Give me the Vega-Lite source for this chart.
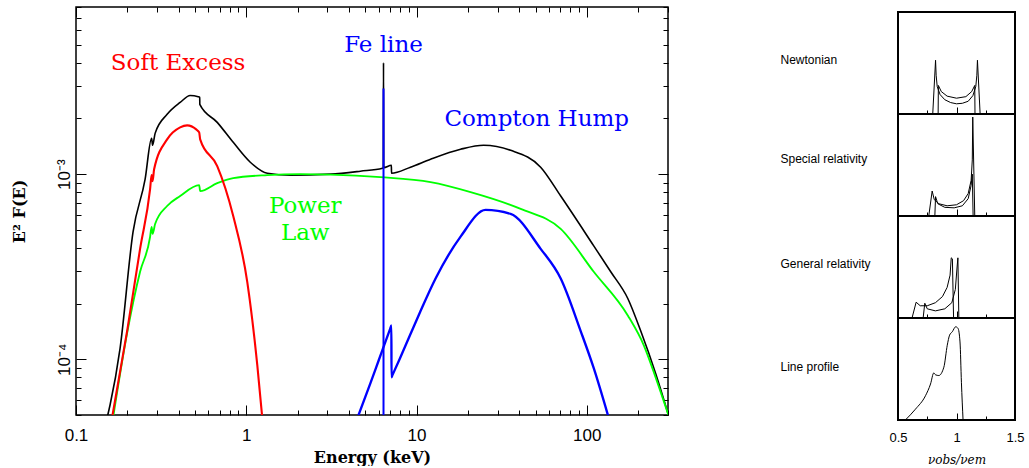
{
"$schema": "https://vega.github.io/schema/vega-lite/v6.json",
"background": "white",
"padding": {"left": 10, "top": 3, "right": 5, "bottom": 0},
"config": {"view": {"stroke": "black"}, "axis": {"grid": false, "domain": false, "labelOverlap": false, "labelFlush": false, "tickColor": "black", "labelColor": "black", "titleColor": "black", "tickWidth": 1}},
"datasets": {
"curves": [
{"s":"total","e":0.1522,"f":4.82e-5},{"s":"total","e":0.1585,"f":5.66e-5},{"s":"total","e":0.1815,"f":1.146e-4},{"s":"total","e":0.2163,"f":4.88e-4},{"s":"total","e":0.2547,"f":9.4e-4},{"s":"total","e":0.278,"f":1.561e-3},{"s":"total","e":0.2818,"f":1.432e-3},{"s":"total","e":0.2915,"f":1.661e-3},{"s":"total","e":0.3429,"f":2.104e-3},{"s":"total","e":0.409,"f":2.44e-3},{"s":"total","e":0.4685,"f":2.66e-3},{"s":"total","e":0.5221,"f":2.62e-3},{"s":"total","e":0.533,"f":2.6e-3},{"s":"total","e":0.5335,"f":2.38e-3},{"s":"total","e":0.6753,"f":1.905e-3},{"s":"total","e":0.8385,"f":1.486e-3},{"s":"total","e":1.056,"f":1.16e-3},{"s":"total","e":1.329,"f":1.012e-3},{"s":"total","e":1.815,"f":9.88e-4},{"s":"total","e":3.12,"f":1.0e-3},{"s":"total","e":4.684,"f":1.038e-3},{"s":"total","e":6.31,"f":1.077e-3},{"s":"total","e":6.38,"f":1.08e-3},{"s":"total","e":6.4,"f":4.0e-3},{"s":"total","e":6.42,"f":1.085e-3},{"s":"total","e":7.12,"f":1.118e-3},{"s":"total","e":7.13,"f":1.012e-3},{"s":"total","e":9.22,"f":1.091e-3},{"s":"total","e":12.09,"f":1.204e-3},{"s":"total","e":18.15,"f":1.363e-3},{"s":"total","e":24.77,"f":1.432e-3},{"s":"total","e":35.7,"f":1.346e-3},{"s":"total","e":53.6,"f":1.091e-3},{"s":"total","e":70.3,"f":7.62e-4},{"s":"total","e":109.9,"f":4.1e-4},{"s":"total","e":138.3,"f":2.97e-4},{"s":"total","e":174.2,"f":2.13e-4},{"s":"total","e":207.8,"f":1.416e-4},{"s":"total","e":254.7,"f":8.3e-5},{"s":"total","e":303,"f":4.94e-5},
{"s":"power","e":0.165,"f":4.82e-5},{"s":"power","e":0.1995,"f":1.38e-4},{"s":"power","e":0.2379,"f":2.97e-4},{"s":"power","e":0.2724,"f":4.58e-4},{"s":"power","e":0.278,"f":5.19e-4},{"s":"power","e":0.2818,"f":4.76e-4},{"s":"power","e":0.2915,"f":5.38e-4},{"s":"power","e":0.3429,"f":6.73e-4},{"s":"power","e":0.409,"f":7.62e-4},{"s":"power","e":0.5291,"f":8.73e-4},{"s":"power","e":0.5362,"f":8.1e-4},{"s":"power","e":0.6753,"f":8.95e-4},{"s":"power","e":0.8385,"f":9.52e-4},{"s":"power","e":1.329,"f":9.88e-4},{"s":"power","e":2.078,"f":1.0e-3},{"s":"power","e":3.12,"f":9.94e-4},{"s":"power","e":6.14,"f":9.63e-4},{"s":"power","e":12.09,"f":9.06e-4},{"s":"power","e":20.78,"f":8.0e-4},{"s":"power","e":40.9,"f":6.49e-4},{"s":"power","e":70.3,"f":5.06e-4},{"s":"power","e":109.9,"f":2.97e-4},{"s":"power","e":174.2,"f":1.725e-4},{"s":"power","e":216.3,"f":1.19e-4},{"s":"power","e":254.7,"f":7.91e-5},{"s":"power","e":303,"f":4.94e-5},
{"s":"soft","e":0.1628,"f":4.82e-5},{"s":"soft","e":0.1995,"f":1.416e-4},{"s":"soft","e":0.2379,"f":3.95e-4},{"s":"soft","e":0.2724,"f":8.3e-4},{"s":"soft","e":0.278,"f":9.88e-4},{"s":"soft","e":0.2818,"f":9.17e-4},{"s":"soft","e":0.2876,"f":1.064e-3},{"s":"soft","e":0.3429,"f":1.542e-3},{"s":"soft","e":0.409,"f":1.79e-3},{"s":"soft","e":0.4497,"f":1.834e-3},{"s":"soft","e":0.5081,"f":1.745e-3},{"s":"soft","e":0.5291,"f":1.682e-3},{"s":"soft","e":0.5362,"f":1.542e-3},{"s":"soft","e":0.6753,"f":1.104e-3},{"s":"soft","e":0.8385,"f":5.94e-4},{"s":"soft","e":1.0136,"f":2.62e-4},{"s":"soft","e":1.161,"f":9.29e-5},{"s":"soft","e":1.242,"f":4.82e-5},
{"s":"compton","e":4.498,"f":4.82e-5},{"s":"compton","e":5.363,"f":7.43e-5},{"s":"compton","e":6.0,"f":9.88e-5},{"s":"compton","e":6.5,"f":1.21e-4},{"s":"compton","e":7.0,"f":1.46e-4},{"s":"compton","e":7.12,"f":1.524e-4},{"s":"compton","e":7.13,"f":8.0e-5},{"s":"compton","e":7.2,"f":8.16e-5},{"s":"compton","e":8.0,"f":1.014e-4},{"s":"compton","e":9.22,"f":1.37e-4},{"s":"compton","e":10.5,"f":1.8e-4},{"s":"compton","e":12.94,"f":2.73e-4},{"s":"compton","e":18.15,"f":4.6e-4},{"s":"compton","e":25.47,"f":6.41e-4},{"s":"compton","e":35.7,"f":6.1e-4},{"s":"compton","e":53.6,"f":3.95e-4},{"s":"compton","e":70.3,"f":2.73e-4},{"s":"compton","e":92.2,"f":1.416e-4},{"s":"compton","e":109.9,"f":8.95e-5},{"s":"compton","e":134.6,"f":4.82e-5}
],
"fe": [{"s":"fe","e":6.4,"f":4.5e-5},{"s":"fe","e":6.4,"f":2.9e-3}],
"labels": [
{"t":"Soft Excess","e":0.398,"f":4.0e-3,"s":"soft"},
{"t":"Fe line","e":6.4,"f":5.0e-3,"s":"fe"},
{"t":"Compton Hump","e":50.8,"f":1.98e-3,"s":"compton"},
{"t":"Power","e":2.22,"f":6.73e-4,"s":"power"},
{"t":"Law","e":2.22,"f":4.82e-4,"s":"power"}
],
"nw": [
{"k":"a","v":0.75,"p":0},{"k":"a","v":0.797,"p":0},{"k":"a","v":0.821,"p":0.527},{"k":"a","v":0.826,"p":0.38},{"k":"a","v":0.835,"p":0.27},{"k":"a","v":0.86,"p":0.19},{"k":"a","v":0.9,"p":0.14},{"k":"a","v":0.95,"p":0.112},{"k":"a","v":1.0,"p":0.1},{"k":"a","v":1.05,"p":0.105},{"k":"a","v":1.1,"p":0.125},{"k":"a","v":1.14,"p":0.18},{"k":"a","v":1.165,"p":0.27},{"k":"a","v":1.174,"p":0.38},{"k":"a","v":1.179,"p":0.527},{"k":"a","v":1.202,"p":0},{"k":"a","v":1.25,"p":0},
{"k":"b","v":0.8,"p":0},{"k":"b","v":0.843,"p":0},{"k":"b","v":0.845,"p":0.28},{"k":"b","v":0.87,"p":0.22},{"k":"b","v":0.92,"p":0.175},{"k":"b","v":1.0,"p":0.155},{"k":"b","v":1.08,"p":0.17},{"k":"b","v":1.13,"p":0.22},{"k":"b","v":1.156,"p":0.28},{"k":"b","v":1.158,"p":0},{"k":"b","v":1.2,"p":0}
],
"sr": [
{"k":"a","v":0.72,"p":0},{"k":"a","v":0.763,"p":0},{"k":"a","v":0.792,"p":0.245},{"k":"a","v":0.81,"p":0.16},{"k":"a","v":0.85,"p":0.12},{"k":"a","v":0.92,"p":0.1},{"k":"a","v":1.0,"p":0.11},{"k":"a","v":1.06,"p":0.15},{"k":"a","v":1.1,"p":0.22},{"k":"a","v":1.125,"p":0.35},{"k":"a","v":1.135,"p":0.55},{"k":"a","v":1.139,"p":0.97},{"k":"a","v":1.156,"p":0},{"k":"a","v":1.2,"p":0},
{"k":"b","v":0.78,"p":0},{"k":"b","v":0.815,"p":0},{"k":"b","v":0.821,"p":0.19},{"k":"b","v":0.84,"p":0.12},{"k":"b","v":0.9,"p":0.085},{"k":"b","v":0.98,"p":0.08},{"k":"b","v":1.05,"p":0.1},{"k":"b","v":1.1,"p":0.17},{"k":"b","v":1.125,"p":0.3},{"k":"b","v":1.135,"p":0.41},{"k":"b","v":1.142,"p":0},{"k":"b","v":1.2,"p":0}
],
"gr": [
{"k":"a","v":0.58,"p":0},{"k":"a","v":0.62,"p":0},{"k":"a","v":0.655,"p":0.155},{"k":"a","v":0.69,"p":0.12},{"k":"a","v":0.75,"p":0.12},{"k":"a","v":0.82,"p":0.15},{"k":"a","v":0.88,"p":0.21},{"k":"a","v":0.92,"p":0.3},{"k":"a","v":0.945,"p":0.42},{"k":"a","v":0.955,"p":0.59},{"k":"a","v":0.965,"p":0.58},{"k":"a","v":0.975,"p":0},{"k":"a","v":1.0,"p":0},
{"k":"b","v":0.68,"p":0},{"k":"b","v":0.715,"p":0},{"k":"b","v":0.729,"p":0.145},{"k":"b","v":0.75,"p":0.09},{"k":"b","v":0.82,"p":0.07},{"k":"b","v":0.9,"p":0.09},{"k":"b","v":0.96,"p":0.15},{"k":"b","v":0.99,"p":0.28},{"k":"b","v":1.005,"p":0.5},{"k":"b","v":1.012,"p":0.59},{"k":"b","v":1.02,"p":0},{"k":"b","v":1.05,"p":0}
],
"lp": [
{"k":"a","v":0.563,"p":0},{"k":"a","v":0.649,"p":0.106},{"k":"a","v":0.735,"p":0.238},{"k":"a","v":0.778,"p":0.353},{"k":"a","v":0.806,"p":0.462},{"k":"a","v":0.821,"p":0.443},{"k":"a","v":0.849,"p":0.436},{"k":"a","v":0.892,"p":0.518},{"k":"a","v":0.921,"p":0.733},{"k":"a","v":0.941,"p":0.832},{"k":"a","v":0.964,"p":0.865},{"k":"a","v":0.993,"p":0.914},{"k":"a","v":1.013,"p":0.898},{"k":"a","v":1.03,"p":0.765},{"k":"a","v":1.042,"p":0.37},{"k":"a","v":1.056,"p":0}
]
},
"spacing": 109,
"hconcat": [
{
"width": 592, "height": 408,
"view": {"stroke": "black", "strokeWidth": 1.5},
"resolve": {"axis": {"x": "independent", "y": "independent"}},
"layer": [
{
"data": {"name": "curves"},
"mark": {"type": "line", "clip": true, "interpolate": "monotone"},
"encoding": {
"x": {"field": "e", "type": "quantitative", "scale": {"type": "log", "domain": [0.1, 300], "nice": false},
"axis": {"orient": "bottom", "values": [0.1,0.2,0.3,0.4,0.5,0.6,0.7,0.8,0.9,1,2,3,4,5,6,7,8,9,10,20,30,40,50,60,70,80,90,100,200,300],
"tickSize": {"condition": {"test": "datum.value==0.1||datum.value==1||datum.value==10||datum.value==100", "value": -10}, "value": -5},
"labelExpr": "datum.value==0.1?'0.1':datum.value==1?'1':datum.value==10?'10':datum.value==100?'100':''",
"labelPadding": 22, "labelFont": "Liberation Sans", "labelFontSize": 17,
"title": "Energy (keV)", "titleFont": "DejaVu Serif", "titleFontSize": 16, "titleFontWeight": "bold", "titlePadding": 1}},
"y": {"field": "f", "type": "quantitative", "scale": {"type": "log", "domain": [0.00005, 0.008], "nice": false},
"axis": {"orient": "left", "values": [0.00005,0.00006,0.00007,0.00008,0.00009,0.0001,0.0002,0.0003,0.0004,0.0005,0.0006,0.0007,0.0008,0.0009,0.001,0.002,0.003,0.004,0.005,0.006,0.007,0.008],
"tickSize": {"condition": {"test": "datum.value==0.0001||datum.value==0.001", "value": -10}, "value": -5},
"labelExpr": "datum.value==0.001?'10⁻³':datum.value==0.0001?'10⁻⁴':''",
"labelAngle": -90, "labelAlign": "center", "labelBaseline": "bottom", "labelPadding": 13, "labelFont": "Liberation Sans", "labelFontSize": 17,
"title": "E² F(E)", "titleFont": "DejaVu Serif", "titleFontSize": 16, "titleFontWeight": "bold", "titlePadding": 23}},
"color": {"field": "s", "type": "nominal", "scale": {"domain": ["total","power","soft","compton","fe"], "range": ["#000000","#00ff00","#ff0000","#0000ff","#0000ff"]}, "legend": null},
"strokeWidth": {"field": "s", "type": "ordinal", "scale": {"domain": ["total","power","soft","compton","fe"], "range": [1.6,2.6,2.6,2.6,2]}, "legend": null}
}
},
{
"data": {"name": "fe"},
"mark": {"type": "line", "clip": true, "color": "#0000ff", "strokeWidth": 2},
"encoding": {
"x": {"field": "e", "type": "quantitative", "scale": {"type": "log", "domain": [0.1, 300], "nice": false}, "axis": null},
"y": {"field": "f", "type": "quantitative", "scale": {"type": "log", "domain": [0.00005, 0.008], "nice": false}, "axis": null}
}
},
{
"data": {"name": "labels"},
"mark": {"type": "text", "font": "DejaVu Serif", "fontSize": 23, "align": "center", "baseline": "middle"},
"encoding": {
"x": {"field": "e", "type": "quantitative", "scale": {"type": "log", "domain": [0.1, 300], "nice": false},
"axis": {"orient": "top", "values": [0.1,0.2,0.3,0.4,0.5,0.6,0.7,0.8,0.9,1,2,3,4,5,6,7,8,9,10,20,30,40,50,60,70,80,90,100,200,300],
"tickSize": {"condition": {"test": "datum.value==0.1||datum.value==1||datum.value==10||datum.value==100", "value": -10}, "value": -5},
"labels": false, "title": null}},
"y": {"field": "f", "type": "quantitative", "scale": {"type": "log", "domain": [0.00005, 0.008], "nice": false},
"axis": {"orient": "right", "values": [0.00005,0.00006,0.00007,0.00008,0.00009,0.0001,0.0002,0.0003,0.0004,0.0005,0.0006,0.0007,0.0008,0.0009,0.001,0.002,0.003,0.004,0.005,0.006,0.007,0.008],
"tickSize": {"condition": {"test": "datum.value==0.0001||datum.value==0.001", "value": -10}, "value": -5},
"labels": false, "title": null}},
"text": {"field": "t"},
"color": {"field": "s", "type": "nominal", "scale": {"domain": ["total","power","soft","compton","fe"], "range": ["#000000","#00ff00","#ff0000","#0000ff","#0000ff"]}, "legend": null}
}
}
]
},
{
"spacing": 0,
"bounds": "flush",
"vconcat": [
{
"width": 117, "height": 5,
"view": {"stroke": null},
"data": {"values": [{"t": ""}]},
"mark": {"type": "text"},
"encoding": {"text": {"field": "t"}}
},
{
"width": 117, "height": 102,
"view": {"stroke": "black", "strokeWidth": 2},
"data": {"name": "nw"},
"mark": {"type": "line", "color": "black", "strokeWidth": 1, "clip": true},
"encoding": {
"x": {"field": "v", "type": "quantitative", "scale": {"domain": [0.5, 1.5], "nice": false, "zero": false},
"axis": {"values": [0.5,0.75,1,1.25,1.5], "tickSize": {"condition": {"test": "datum.value==0.75||datum.value==1.25", "value": -4}, "value": -7}, "labels": false, "title": null}},
"y": {"field": "p", "type": "quantitative", "scale": {"domain": [0, 1], "nice": false},
"axis": {"title": "Newtonian", "titleAngle": 0, "titleAlign": "left", "titleBaseline": "middle", "titleX": -118, "titleY": 47, "titleFont": "Liberation Sans", "titleFontSize": 12, "titleFontWeight": "normal", "labels": false, "ticks": false}},
"detail": {"field": "k"}
}
},
{
"width": 117, "height": 102,
"view": {"stroke": "black", "strokeWidth": 2},
"data": {"name": "sr"},
"mark": {"type": "line", "color": "black", "strokeWidth": 1, "clip": true},
"encoding": {
"x": {"field": "v", "type": "quantitative", "scale": {"domain": [0.5, 1.5], "nice": false, "zero": false},
"axis": {"values": [0.5,0.75,1,1.25,1.5], "tickSize": {"condition": {"test": "datum.value==0.75||datum.value==1.25", "value": -4}, "value": -7}, "labels": false, "title": null}},
"y": {"field": "p", "type": "quantitative", "scale": {"domain": [0, 1], "nice": false},
"axis": {"title": "Special relativity", "titleAngle": 0, "titleAlign": "left", "titleBaseline": "middle", "titleX": -118, "titleY": 44, "titleFont": "Liberation Sans", "titleFontSize": 12, "titleFontWeight": "normal", "labels": false, "ticks": false}},
"detail": {"field": "k"}
}
},
{
"width": 117, "height": 102,
"view": {"stroke": "black", "strokeWidth": 2},
"data": {"name": "gr"},
"mark": {"type": "line", "color": "black", "strokeWidth": 1, "clip": true},
"encoding": {
"x": {"field": "v", "type": "quantitative", "scale": {"domain": [0.5, 1.5], "nice": false, "zero": false},
"axis": {"values": [0.5,0.75,1,1.25,1.5], "tickSize": {"condition": {"test": "datum.value==0.75||datum.value==1.25", "value": -4}, "value": -7}, "labels": false, "title": null}},
"y": {"field": "p", "type": "quantitative", "scale": {"domain": [0, 1], "nice": false},
"axis": {"title": "General relativity", "titleAngle": 0, "titleAlign": "left", "titleBaseline": "middle", "titleX": -118, "titleY": 47, "titleFont": "Liberation Sans", "titleFontSize": 12, "titleFontWeight": "normal", "labels": false, "ticks": false}},
"detail": {"field": "k"}
}
},
{
"width": 117, "height": 102,
"view": {"stroke": "black", "strokeWidth": 2},
"data": {"name": "lp"},
"mark": {"type": "line", "color": "black", "strokeWidth": 1, "clip": true, "interpolate": "monotone"},
"encoding": {
"x": {"field": "v", "type": "quantitative", "scale": {"domain": [0.5, 1.5], "nice": false, "zero": false},
"axis": {"values": [0.5,0.75,1,1.25,1.5], "tickSize": {"condition": {"test": "datum.value==0.75||datum.value==1.25", "value": -4}, "value": -7},
"labelExpr": "datum.value==0.5?'0.5':datum.value==1?'1':datum.value==1.5?'1.5':''", "labelPadding": 18, "labelFont": "Liberation Sans", "labelFontSize": 13,
"title": "νobs/νem", "titleFont": "DejaVu Serif", "titleFontStyle": "italic", "titleFontSize": 12, "titleFontWeight": "normal", "titlePadding": 7}},
"y": {"field": "p", "type": "quantitative", "scale": {"domain": [0, 1], "nice": false},
"axis": {"title": "Line profile", "titleAngle": 0, "titleAlign": "left", "titleBaseline": "middle", "titleX": -118, "titleY": 48, "titleFont": "Liberation Sans", "titleFontSize": 12, "titleFontWeight": "normal", "labels": false, "ticks": false}},
"detail": {"field": "k"}
}
}
]
}
]
}
